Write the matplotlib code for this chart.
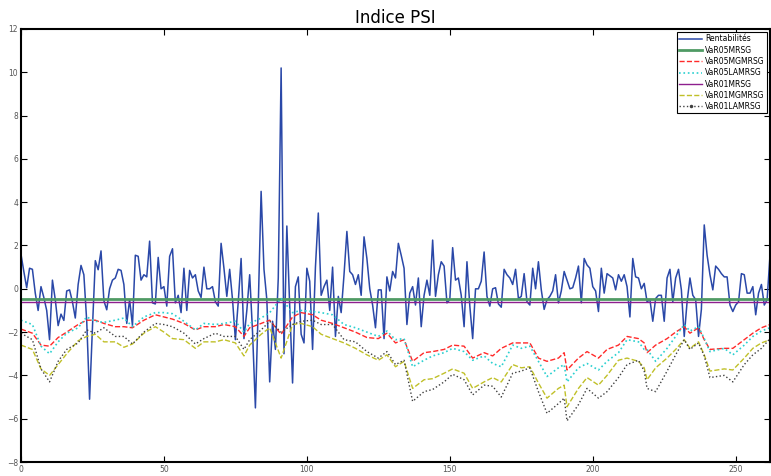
import matplotlib
matplotlib.use('Agg')
import matplotlib.pyplot as plt
import numpy as np

# daily returns (Rentabilités), one value per day
returns = [
    1.6, 0.8, 0.05, 0.95, 0.9, -0.2, -1.0, 0.1, -0.4, -1.0,
    -2.35, 0.4, -0.5, -1.7, -1.17, -1.46, -0.1, -0.05, -0.6, -1.35,
    0.2, 1.08, 0.65, -1.5, -5.1, -1.8, 1.3, 0.88, 1.75, -0.55,
    -0.97, 0.0, 0.4, 0.5, 0.9, 0.85, 0.2, -1.6, -0.5, -1.7,
    1.55, 1.5, 0.4, 0.65, 0.55, 2.2, -0.65, -0.7, 1.45, 0.0,
    0.1, -0.8, 1.5, 1.85, -0.65, -0.3, -1.1, 0.95, -1.0, 0.85,
    0.5, 0.65, -0.1, -0.4, 1.0, 0.0, 0.0, 0.1, -0.6, -0.8,
    2.1, 0.95, -0.35, 0.9, -0.5, -2.35, -0.6, 1.4, -2.3, -1.0,
    0.65, -2.0, -5.5, -0.8, 4.5, 0.9, -0.5, -4.3, -1.5, -2.8,
    0.5, 10.2, -3.0, 2.9, -0.8, -4.35, 0.1, 0.55, -2.1, -2.5,
    0.95, 0.35, -2.8, 1.0, 3.5, -0.3, 0.1, 0.4, -1.0, 1.0,
    -2.2, -0.35, -1.1, 0.65, 2.65, 0.8, 0.65, 0.2, 0.65, -0.3,
    2.4, 1.4, 0.0, -0.75, -1.8, -0.05, -0.05, -2.3, 0.55, -0.1,
    0.8, 0.5, 2.1, 1.55, 0.95, -1.65, -0.2, 0.1, -0.75, 0.5,
    -1.75, -0.3, 0.4, -0.3, 2.25, -0.35, 0.65, 1.25, 1.05, -0.65,
    -0.5, 1.9, 0.4, 0.5, -0.3, -1.75, 1.25, -0.8, -2.3, 0.0,
    0.0, 0.35, 1.7, -0.35, -0.8, 0.0, 0.05, -0.7, -0.85, 0.9,
    0.65, 0.5, 0.2, 0.9, -0.45, -0.35, 0.7, -0.6, -0.75, 0.95,
    0.0, 1.25, -0.05, -0.95, -0.5, -0.35, -0.1, 0.65, -0.65, -0.1,
    0.8, 0.4, 0.0, 0.05, 0.5, 1.05, -0.65, 1.4, 1.1, 0.95,
    0.1, -0.1, -1.05, 0.95, -0.2, 0.7, 0.6, 0.5, -0.05, 0.65,
    0.35, 0.65, 0.1, -1.3, 1.4, 0.55, 0.5, 0.0, 0.25, -0.6,
    -0.5, -1.5, -0.45, -0.3, -0.3, -1.5, 0.5, 0.9, -0.6, 0.5,
    0.9, -0.05, -2.2, -0.6, 0.5, -0.3, -0.5, -2.2, -0.95, 2.95,
    1.55, 0.65, -0.05, 1.05, 0.9, 0.7, 0.55, 0.55, -0.75, -1.05,
    -0.75, -0.6, 0.7, 0.65, -0.2, -0.2, 0.1, -1.2, -0.2, 0.2,
    -0.75, -0.5, 1.55,
]

# constant VaR levels
var05_mrsg = -0.46
var01_mrsg = -0.59

# days at which the time-varying VaR curves were read
var_x = [0, 4, 7, 10, 13, 16, 20, 23, 26, 29, 33, 36, 39,
         43, 47, 50, 53, 57, 61, 64, 68, 71, 75, 78, 80, 84,
         87, 91, 95, 98, 102, 105, 109, 113, 117, 121, 125, 128,
         131, 134, 137, 141, 144, 148, 151, 155, 158, 162, 165, 168,
         172, 175, 178, 181, 184, 188, 190, 191, 195, 198, 202, 205, 209, 212,
         216, 218, 219, 222, 226, 229, 232, 234, 237, 239, 241, 246, 249, 253, 256, 259, 262]

var05_mgm = [-1.86, -2.05, -2.6, -2.65, -2.25, -2.0, -1.65, -1.45, -1.45, -1.6, -1.75, -1.75, -1.8,
             -1.45, -1.2, -1.3, -1.4, -1.6, -1.9, -1.75, -1.75, -1.65, -1.75, -2.2, -1.8, -1.6,
             -1.45, -2.1, -1.3, -1.1, -1.2, -1.45, -1.6, -1.8, -2.0, -2.25, -2.3, -2.05,
             -2.5, -2.35, -3.35, -2.95, -2.9, -2.8, -2.6, -2.65, -3.2, -2.95, -3.1, -2.75,
             -2.5, -2.5, -2.5, -3.2, -3.35, -3.2, -2.95, -3.75, -3.2, -2.9, -3.2, -2.8, -2.6, -2.2,
             -2.3, -2.5, -2.95, -2.6, -2.3, -2.0, -1.75, -2.05, -1.8, -2.35, -2.8, -2.75, -2.75, -2.35, -2.05, -1.8, -1.65]

var05_la = [-1.45, -1.65, -2.65, -3.0, -2.45, -2.05, -1.8, -1.3, -1.5, -1.55, -1.45, -1.35, -1.75,
            -1.3, -1.1, -1.1, -1.15, -1.5, -1.9, -1.6, -1.65, -1.6, -1.5, -2.0, -1.6, -1.35,
            -1.1, -0.45, -1.1, -1.0, -1.05, -1.1, -1.2, -1.65, -1.8, -2.0, -2.2, -1.95,
            -2.35, -2.3, -3.6, -3.3, -3.1, -2.95, -2.75, -2.9, -3.3, -3.1, -3.45, -3.6,
            -2.6, -2.75, -2.65, -3.35, -4.05, -3.65, -3.5, -4.3, -3.65, -3.45, -3.75, -3.35, -2.95, -2.35,
            -2.45, -2.8, -2.8, -3.35, -2.75, -2.2, -1.65, -1.95, -1.75, -2.3, -2.9, -2.75, -3.05, -2.6, -2.2, -1.95, -1.8]

var01_mgm = [-2.6, -2.8, -3.7, -4.0, -3.5, -3.0, -2.4, -2.2, -2.1, -2.45, -2.45, -2.7, -2.55,
             -2.05, -1.75, -2.0, -2.3, -2.35, -2.75, -2.45, -2.45, -2.35, -2.5, -3.1, -2.6, -2.1,
             -1.8, -3.2, -1.65, -1.6, -1.75, -2.1, -2.3, -2.5, -2.75, -3.05, -3.3, -3.05,
             -3.6, -3.35, -4.6, -4.2, -4.15, -3.9, -3.7, -3.9, -4.6, -4.3, -4.1, -4.3,
             -3.5, -3.65, -3.6, -4.35, -5.05, -4.6, -4.45, -5.45, -4.6, -4.1, -4.45, -4.0, -3.3, -3.2,
             -3.35, -3.65, -4.2, -3.65, -3.2, -2.8, -2.35, -2.75, -2.45, -3.05, -3.8, -3.7, -3.75, -3.2, -2.75, -2.5, -2.35]

var01_la = [-2.05, -2.35, -3.7, -4.3, -3.35, -2.8, -2.5, -1.9, -2.05, -1.8, -2.2, -2.2, -2.55,
            -2.0, -1.6, -1.65, -1.75, -2.05, -2.55, -2.3, -2.05, -2.2, -2.2, -2.8, -2.35, -1.9,
            -1.5, -2.0, -1.65, -1.5, -1.45, -1.65, -1.65, -2.35, -2.45, -2.9, -3.2, -2.9,
            -3.5, -3.3, -5.2, -4.75, -4.65, -4.3, -3.95, -4.2, -4.9, -4.45, -4.5, -5.0,
            -3.9, -3.8, -3.65, -4.75, -5.75, -5.3, -5.05, -6.1, -5.35, -4.6, -5.05, -4.75, -4.1, -3.5,
            -3.3, -3.8, -4.6, -4.75, -3.8, -3.05, -2.35, -2.8, -2.5, -3.1, -4.1, -4.0, -4.3, -3.5, -3.05, -2.75, -2.3]

days = np.arange(len(returns))

fig = plt.figure(figsize=(7.71, 4.76), dpi=100)
ax = fig.add_axes([0.0272, 0.0294, 0.9715, 0.9097])

ax.plot(days, returns, color='#2a48a8', lw=1.1, label='Rentabilités')
ax.axhline(var05_mrsg, color='#4f9a64', lw=2.0, label='VaR05MRSG')
ax.plot(var_x, var05_mgm, color='#ff2a2a', ls='--', lw=1.0, label='VaR05MGMRSG')
ax.plot(var_x, var05_la, color='#2ad0d0', ls=':', lw=1.2, label='VaR05LAMRSG')
ax.axhline(var01_mrsg, color='#8e1f8e', lw=1.0, label='VaR01MRSG')
ax.plot(var_x, var01_mgm, color='#c0c028', ls='--', lw=1.0, label='VaR01MGMRSG')
ax.plot(var_x, var01_la, color='#404040', ls=':', lw=1.0, label='VaR01LAMRSG')

ax.set_xlim(0, 262)
ax.set_ylim(-8, 12)
ax.set_xticks(np.arange(0, 251, 50))
ax.set_yticks(np.arange(-8, 13, 2))
ax.tick_params(direction='in', top=True, right=True, labelsize=5.5, length=4,
               pad=2, labelcolor='#555555')
for s in ax.spines.values():
    s.set_linewidth(1.5)

ax.set_title('Indice PSI', fontsize=12, pad=4)

leg = ax.legend(loc='upper right', fontsize=5.5, fancybox=False, framealpha=1,
                edgecolor='black', borderaxespad=0.4, handlelength=3.0,
                handletextpad=0.4, labelspacing=0.3, borderpad=0.3)
leg.get_frame().set_linewidth(0.8)
leg.get_lines()[-1].set_marker('.')
leg.get_lines()[-1].set_markersize(3)

fig.savefig('out.png', dpi=100)
